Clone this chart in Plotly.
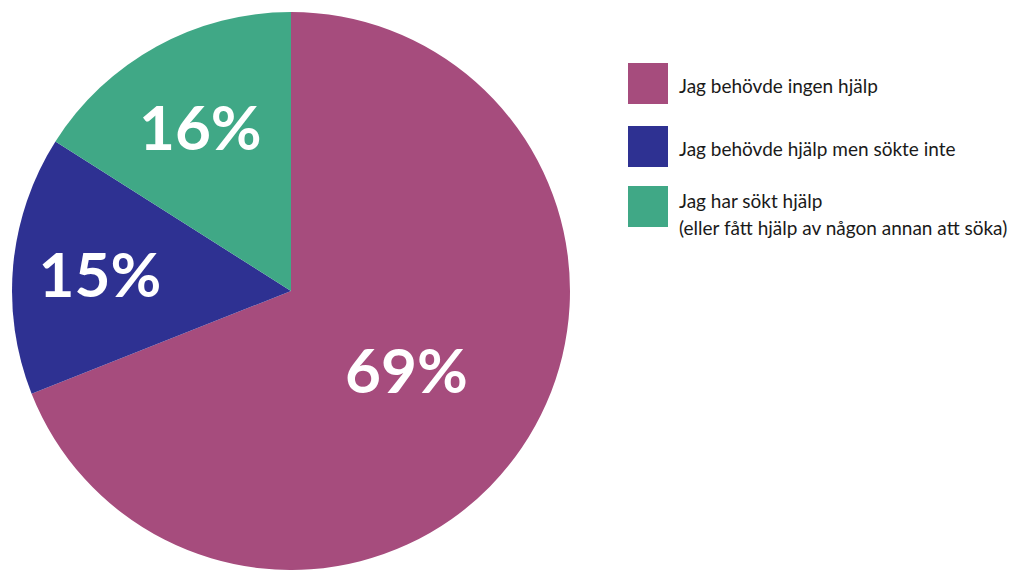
import plotly.graph_objects as go

labels = ["Jag behövde ingen hjälp", "Jag behövde hjälp men sökte inte",
          "Jag har sökt hjälp<br>(eller fått hjälp av någon annan att söka)"]
values = [69, 15, 16]
colors = ["#A64C7D", "#2E3192", "#40A886"]

OFF = 8  # page body margin
W, H = 1021 - OFF, 570 - OFF


def px(x):
    return (x - OFF) / W


def py(y):
    return 1 - (y - OFF) / H


cx, cy, r = 291, 291, 279

fig = go.Figure(go.Pie(
    labels=labels, values=values, sort=False, direction="clockwise", rotation=0,
    marker=dict(colors=colors, line=dict(width=0)),
    texttemplate="%{value}%", textposition="inside", insidetextorientation="horizontal",
    textfont=dict(family="Lato", size=62, color="white", weight="bold"),
    domain=dict(x=[px(cx - r), px(cx + r)], y=[py(cy + r), py(cy - r)]),
    showlegend=False, hoverinfo="label+percent",
))

# custom legend
sq_top = [63, 126, 186]
line_y = [[85], [148], [200, 227]]
for lab, col, t, ys in zip(labels, colors, sq_top, line_y):
    fig.add_shape(type="rect", xref="paper", yref="paper",
                  x0=px(628), x1=px(668), y0=py(t + 41), y1=py(t),
                  fillcolor=col, line=dict(width=0))
    for line, ty in zip(lab.split("<br>"), ys):
        fig.add_annotation(text=line, xref="paper", yref="paper", x=px(677), y=py(ty),
                           xanchor="left", yanchor="middle", align="left", showarrow=False,
                           font=dict(family="Lato", size=19, color="#1a1a1a"))

fig.update_layout(width=W, height=H, margin=dict(l=0, r=0, t=0, b=0),
                  paper_bgcolor="white", plot_bgcolor="white")
fig.write_html("out.html")
